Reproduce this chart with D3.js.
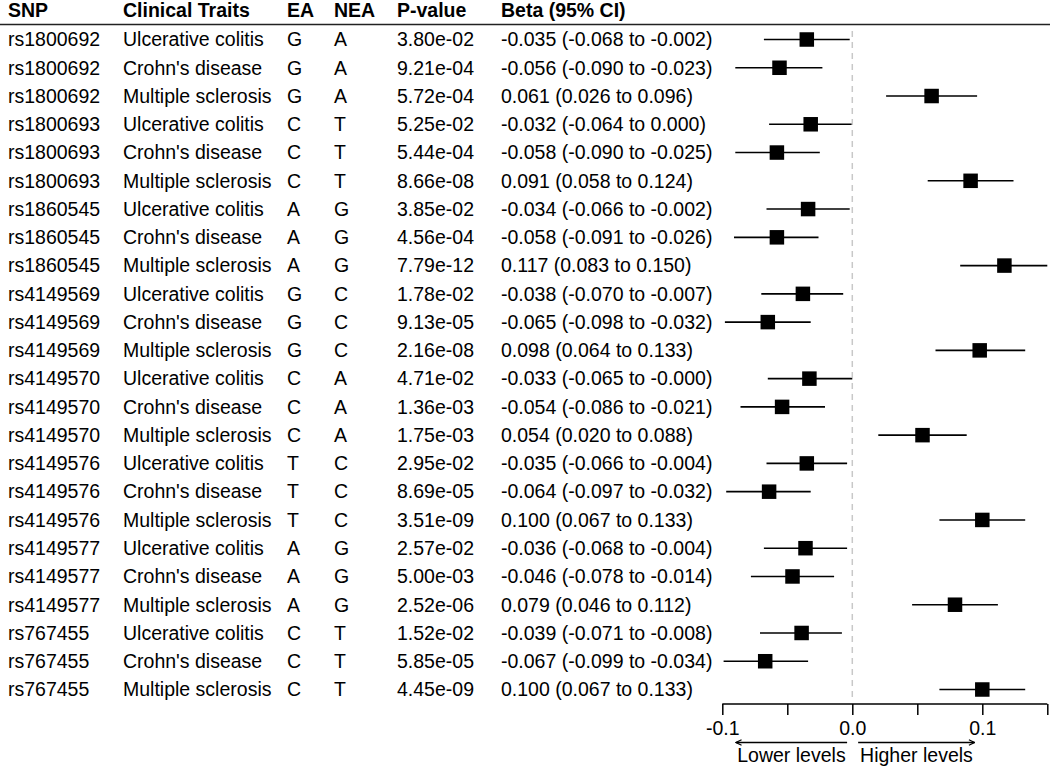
<!DOCTYPE html>
<meta charset="utf-8">
<style>
  body { margin: 0; background: #fff; }
  text { font-family: "Liberation Sans", Arial, sans-serif; font-size: 19.5px; fill: #000; }
  .head { font-weight: bold; }
  .ci { stroke: #000; stroke-width: 1.6px; }
  .zero { stroke: #c8c8c8; stroke-width: 1.5px; stroke-dasharray: 6,5; }
</style>
<body>
<script src="https://cdn.jsdelivr.net/npm/d3@7"></script>
<script>

  var snps = ["rs1800692", "rs1800692", "rs1800692", "rs1800693", "rs1800693", "rs1800693",
    "rs1860545", "rs1860545", "rs1860545", "rs4149569", "rs4149569", "rs4149569",
    "rs4149570", "rs4149570", "rs4149570", "rs4149576", "rs4149576", "rs4149576",
    "rs4149577", "rs4149577", "rs4149577", "rs767455", "rs767455", "rs767455"]
  var traitCycle = ["Ulcerative colitis", "Crohn's disease", "Multiple sclerosis"]
  var traits = snps.map((d, i) => traitCycle[i % 3])
  var ea = ["G", "G", "G", "C", "C", "C", "A", "A", "A", "G", "G", "G",
    "C", "C", "C", "T", "T", "T", "A", "A", "A", "C", "C", "C"]
  var nea = ["A", "A", "A", "T", "T", "T", "G", "G", "G", "C", "C", "C",
    "A", "A", "A", "C", "C", "C", "G", "G", "G", "T", "T", "T"]
  var pvalues = ["3.80e-02", "9.21e-04", "5.72e-04", "5.25e-02", "5.44e-04", "8.66e-08",
    "3.85e-02", "4.56e-04", "7.79e-12", "1.78e-02", "9.13e-05", "2.16e-08",
    "4.71e-02", "1.36e-03", "1.75e-03", "2.95e-02", "8.69e-05", "3.51e-09",
    "2.57e-02", "5.00e-03", "2.52e-06", "1.52e-02", "5.85e-05", "4.45e-09"]
  var beta = [-0.035, -0.056, 0.061, -0.032, -0.058, 0.091, -0.034, -0.058, 0.117,
    -0.038, -0.065, 0.098, -0.033, -0.054, 0.054, -0.035, -0.064, 0.100,
    -0.036, -0.046, 0.079, -0.039, -0.067, 0.100]
  var lower = [-0.068, -0.090, 0.026, -0.064, -0.090, 0.058, -0.066, -0.091, 0.083,
    -0.070, -0.098, 0.064, -0.065, -0.086, 0.020, -0.066, -0.097, 0.067,
    -0.068, -0.078, 0.046, -0.071, -0.099, 0.067]
  // -0 on purpose: row 13 prints "-0.000"
  var upper = [-0.002, -0.023, 0.096, 0.000, -0.025, 0.124, -0.002, -0.026, 0.150,
    -0.007, -0.032, 0.133, -0.000, -0.021, 0.088, -0.004, -0.032, 0.133,
    -0.004, -0.014, 0.112, -0.008, -0.034, 0.133]
  var axisTicks = [-0.1, -0.05, 0, 0.05, 0.1, 0.15]
  var axisLabels = ["-0.1", "", "0.0", "", "0.1", ""]

  var headers = ["SNP", "Clinical Traits", "EA", "NEA", "P-value", "Beta (95% CI)"]
  var colX = [8, 123, 287, 334, 397, 501]

  var width = 1052, height = 768

  function fmt(v) {
    return (v < 0 || Object.is(v, -0) ? "-" : "") + Math.abs(v).toFixed(3)
  }

  var rows = snps.map((s, i) => ({
    i: i, snp: s, trait: traits[i], ea: ea[i], nea: nea[i], p: pvalues[i],
    beta: beta[i], lo: lower[i], hi: upper[i],
    label: fmt(beta[i]) + " (" + fmt(lower[i]) + " to " + fmt(upper[i]) + ")"
  }))

  var x = d3.scaleLinear().domain([-0.1, 0.15]).range([722.3, 1047.3])
  var y = d3.scalePoint().domain(d3.range(rows.length)).range([39.5, 689.5])

  var svg = d3.select("body").append("svg")
    .attr("width", width)
    .attr("height", height)

  // header
  svg.selectAll(".head").data(headers).enter().append("text")
    .attr("class", "head")
    .attr("x", (d, i) => colX[i])
    .attr("y", 17)
    .text(d => d)
  svg.append("line")
    .attr("x1", 0).attr("x2", 1050)
    .attr("y1", 24.5).attr("y2", 24.5)
    .attr("stroke", "#222").attr("stroke-width", 1.6)

  // table text
  var keys = ["snp", "trait", "ea", "nea", "p", "label"]
  var row = svg.selectAll(".row").data(rows).enter().append("g")
    .attr("class", "row")
    .attr("transform", d => "translate(0," + y(d.i) + ")")
  keys.forEach((k, j) => {
    row.append("text")
      .attr("x", colX[j])
      .attr("y", 6.8)
      .text(d => d[k])
  })

  // zero line
  svg.append("line")
    .attr("class", "zero")
    .attr("x1", x(0)).attr("x2", x(0))
    .attr("y1", 31).attr("y2", 699)

  // intervals and points
  row.append("line")
    .attr("class", "ci")
    .attr("x1", d => x(d.lo)).attr("x2", d => x(d.hi))
  var sq = 14.5
  row.append("rect")
    .attr("x", d => x(d.beta) - sq / 2)
    .attr("y", -sq / 2)
    .attr("width", sq).attr("height", sq)
    .attr("fill", "#000")

  // axis
  var axis = svg.append("g")
    .attr("transform", "translate(0,704)")
    .call(d3.axisBottom(x).tickValues(axisTicks).tickSize(11).tickPadding(6)
      .tickFormat((d, i) => axisLabels[i]))
  axis.select(".domain").attr("stroke", "#000").attr("stroke-width", 1.5)
    .attr("d", "M" + x(-0.1) + ",0H" + x(0.15))
  axis.selectAll(".tick line").attr("stroke", "#000").attr("stroke-width", 1.5)
  axis.selectAll(".tick text")
    .style("font-family", "'Liberation Sans', Arial, sans-serif")
    .style("font-size", "19.5px")
    .attr("fill", "#000")

  // direction arrows
  var defs = svg.append("defs")
  defs.append("marker")
    .attr("id", "head")
    .attr("viewBox", "0 0 10 10")
    .attr("refX", 9).attr("refY", 5)
    .attr("markerWidth", 7).attr("markerHeight", 7)
    .attr("markerUnits", "userSpaceOnUse")
    .attr("orient", "auto")
    .append("path")
    .attr("d", "M1,1L9,5L1,9")
    .attr("fill", "none").attr("stroke", "#000").attr("stroke-width", 1.6)

  var ay = 742.5
  svg.append("line")
    .attr("x1", x(-0.004)).attr("x2", x(-0.0895))
    .attr("y1", ay).attr("y2", ay)
    .attr("stroke", "#000").attr("stroke-width", 1.3)
    .attr("marker-end", "url(#head)")
  svg.append("line")
    .attr("x1", x(0.0045)).attr("x2", x(0.094))
    .attr("y1", ay).attr("y2", ay)
    .attr("stroke", "#000").attr("stroke-width", 1.3)
    .attr("marker-end", "url(#head)")
  svg.append("text").attr("x", x(-0.0885)).attr("y", 761.5).text("Lower levels")
  svg.append("text").attr("x", x(0.006)).attr("y", 761.5).text("Higher levels")

</script>
</body>
